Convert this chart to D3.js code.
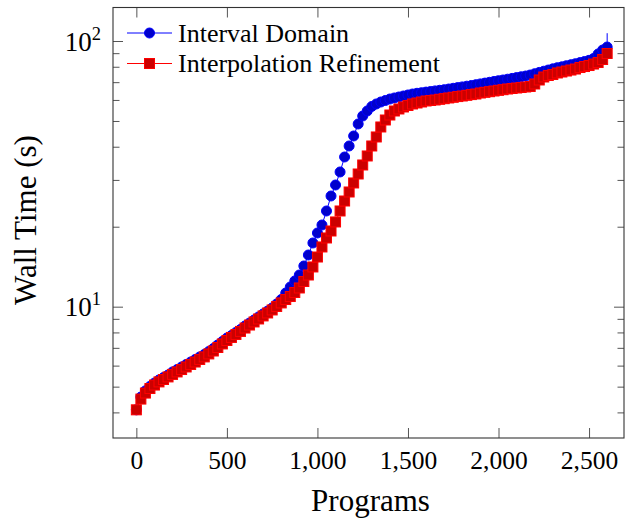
<!DOCTYPE html>
<html><head><meta charset="utf-8">
<script src="https://cdn.jsdelivr.net/npm/d3@7"></script>
<style>
body{margin:0;background:#fff}
text{font-family:"Liberation Serif","Times New Roman",serif;fill:#000}
</style>
</head><body>
<svg id="c" width="625" height="519"></svg>
<script>
// ---- data ----
const programs = [0,25,50,75,100,125,150,175,200,225,250,275,300,325,350,375,400,425,450,475,
500,525,550,575,600,625,650,675,700,725,750,775,800,825,850,875,900,925,950,975,
1000,1025,1050,1075,1100,1125,1150,1175,1200,1225,1250,1275,1300,1325,1350,1375,1400,1425,1450,1475,
1500,1525,1550,1575,1600,1625,1650,1675,1700,1725,1750,1775,1800,1825,1850,1875,1900,1925,1950,1975,
2000,2025,2050,2075,2100,2125,2150,2175,2200,2225,2250,2275,2300,2325,2350,2375,2400,2425,2450,2475,
2500,2525,2550,2575,2600];
const intervalDomain = [4.09,4.57,4.82,5.01,5.16,5.30,5.41,5.53,5.68,5.80,5.93,6.06,6.19,6.33,6.47,6.61,6.78,6.96,7.18,7.40,
7.62,7.79,8.00,8.21,8.46,8.68,8.91,9.15,9.39,9.63,9.89,10.24,10.64,11.26,11.86,12.50,13.16,14.23,15.65,17.37,
18.94,20.30,22.92,26.10,28.71,32.14,36.60,40.26,43.91,48.72,52.20,54.52,56.70,57.94,58.95,59.72,60.49,61.04,61.56,62.09,
62.64,63.17,63.57,63.89,64.23,64.56,64.90,65.23,65.57,65.97,66.38,66.78,67.19,67.60,68.01,68.48,68.96,69.44,69.92,70.41,
70.90,71.33,71.82,72.32,72.83,73.34,73.84,74.47,75.32,76.17,76.97,77.76,78.58,79.34,79.96,80.72,81.43,82.14,82.92,83.72,
84.59,85.93,89.35,92.49,94.93];
const intervalDomainTail = 107; // line continues up from the last point
const interpolationRefinement = [4.09,4.49,4.73,4.92,5.07,5.21,5.32,5.44,5.56,5.68,5.80,5.93,6.06,6.19,6.33,6.47,6.64,6.81,7.02,7.24,
7.46,7.66,7.86,8.07,8.31,8.53,8.76,8.99,9.23,9.47,9.72,10.02,10.33,10.64,10.92,11.31,11.76,12.44,13.16,14.11,
15.38,16.78,18.14,19.27,20.84,22.92,24.99,27.02,29.22,31.58,34.15,36.92,40.26,43.53,47.47,50.43,52.66,54.52,55.48,56.45,
57.19,57.94,58.44,58.95,59.46,59.72,59.98,60.35,60.66,61.04,61.41,61.78,62.09,62.47,62.85,63.17,63.72,64.11,64.45,64.84,
65.23,65.57,65.97,66.26,66.55,66.83,67.13,67.43,68.90,71.33,73.20,74.17,74.80,75.80,76.44,77.10,77.76,78.44,79.47,80.16,
80.86,81.91,82.99,85.20,89.74];
const seriesNames = ["Interval Domain","Interpolation Refinement"];
const xTicks = [0,500,1000,1500,2000,2500];
const yMajor = [10,100];
const yMinor = [4,5,6,7,8,9,20,30,40,50,60,70,80,90];
const xLabel = "Programs";
const yLabel = "Wall Time (s)";

// ---- layout ----
const m = {l:113, r:624, t:7.5, b:438};
const svg = d3.select("#c");
const x = d3.scaleLinear().domain([-129, 2693]).range([m.l, m.r]);
const y = d3.scaleLog().domain([3.204, 133.7]).range([m.b, m.t]);

const tickColor = "#555";
function styleAxis(g){
  g.select(".domain").remove();
  g.selectAll(".tick line").attr("stroke", tickColor).attr("stroke-width", 1);
}
// x axes (bottom labelled, top ticks only)
const gxb = svg.append("g").attr("transform", `translate(0,${m.b})`)
  .call(d3.axisBottom(x).tickValues(xTicks).tickSize(-10).tickFormat(d3.format(",")));
styleAxis(gxb);
gxb.selectAll("text").attr("y", 31).attr("dy", 0)
  .style("font-size", "25.5px").style("font-family", '"Liberation Serif",serif');
const gxt = svg.append("g").attr("transform", `translate(0,${m.t})`)
  .call(d3.axisTop(x).tickValues(xTicks).tickSize(-10).tickFormat(""));
styleAxis(gxt);

// y axes: major + minor, left and right
const gyl = svg.append("g").attr("transform", `translate(${m.l},0)`)
  .call(d3.axisLeft(y).tickValues(yMajor).tickSize(-10).tickFormat(""));
styleAxis(gyl);
const gylm = svg.append("g").attr("transform", `translate(${m.l},0)`)
  .call(d3.axisLeft(y).tickValues(yMinor).tickSize(-6.5).tickFormat(""));
styleAxis(gylm);
const gyr = svg.append("g").attr("transform", `translate(${m.r},0)`)
  .call(d3.axisRight(y).tickValues(yMajor).tickSize(-10).tickFormat(""));
styleAxis(gyr);
const gyrm = svg.append("g").attr("transform", `translate(${m.r},0)`)
  .call(d3.axisRight(y).tickValues(yMinor).tickSize(-6.5).tickFormat(""));
styleAxis(gyrm);

// y tick labels 10^k
yMajor.forEach(v => {
  const t = svg.append("text").attr("x", 101).attr("y", y(v) + 9.5)
    .attr("text-anchor", "end").style("font-size", "27px");
  t.append("tspan").text("10");
  t.append("tspan").attr("dy", -11).style("font-size", "18.5px").text(String(Math.round(Math.log10(v))));
});

// frame
svg.append("rect").attr("x", m.l).attr("y", m.t).attr("width", m.r - m.l).attr("height", m.b - m.t)
  .attr("fill", "none").attr("stroke", "#333").attr("stroke-width", 1.1);

// clip for lines
svg.append("clipPath").attr("id", "clip").append("rect")
  .attr("x", m.l).attr("y", m.t).attr("width", m.r - m.l).attr("height", m.b - m.t);

const line = d3.line().x(d => x(d[0])).y(d => y(d[1]));
const blueData = programs.map((p, i) => [p, intervalDomain[i]]);
const redData = programs.map((p, i) => [p, interpolationRefinement[i]]);

// Series 1: blue circles
svg.append("path").datum(blueData.concat([[programs[programs.length-1], intervalDomainTail]]))
  .attr("d", line).attr("fill", "none").attr("stroke", "#0000ff").attr("stroke-width", 1)
  .attr("clip-path", "url(#clip)");
svg.append("g").selectAll("circle").data(blueData).join("circle")
  .attr("cx", d => x(d[0])).attr("cy", d => y(d[1])).attr("r", 5)
  .attr("fill", "#0000cc").attr("stroke", "#0000ff").attr("stroke-width", 1);

// Series 2: red squares
svg.append("path").datum(redData)
  .attr("d", line).attr("fill", "none").attr("stroke", "#ff0000").attr("stroke-width", 1)
  .attr("clip-path", "url(#clip)");
svg.append("g").selectAll("rect").data(redData).join("rect")
  .attr("x", d => x(d[0]) - 5).attr("y", d => y(d[1]) - 5).attr("width", 10).attr("height", 10)
  .attr("fill", "#cc0000").attr("stroke", "#ff0000").attr("stroke-width", 1);

// legend
const lg = svg.append("g");
const rows = [{name: seriesNames[0], c: "#0000ff", f: "#0000cc", shape: "circle", cy: 33},
              {name: seriesNames[1], c: "#ff0000", f: "#cc0000", shape: "square", cy: 63.5}];
rows.forEach(r => {
  lg.append("line").attr("x1", 127).attr("x2", 172).attr("y1", r.cy).attr("y2", r.cy)
    .attr("stroke", r.c).attr("stroke-width", 1);
  if (r.shape === "circle") {
    lg.append("circle").attr("cx", 149.5).attr("cy", r.cy).attr("r", 5)
      .attr("fill", r.f).attr("stroke", r.c);
  } else {
    lg.append("rect").attr("x", 144.5).attr("y", r.cy - 5).attr("width", 10).attr("height", 10)
      .attr("fill", r.f).attr("stroke", r.c);
  }
  lg.append("text").attr("x", 178).attr("y", r.cy + 8.5).style("font-size", "26px").text(r.name);
});

// axis labels
svg.append("text").attr("x", 370.5).attr("y", 511).attr("text-anchor", "middle")
  .style("font-size", "31px").text(xLabel);
svg.append("text").attr("transform", "translate(36,220) rotate(-90)").attr("text-anchor", "middle")
  .style("font-size", "31px").text(yLabel);
</script>
</body></html>
